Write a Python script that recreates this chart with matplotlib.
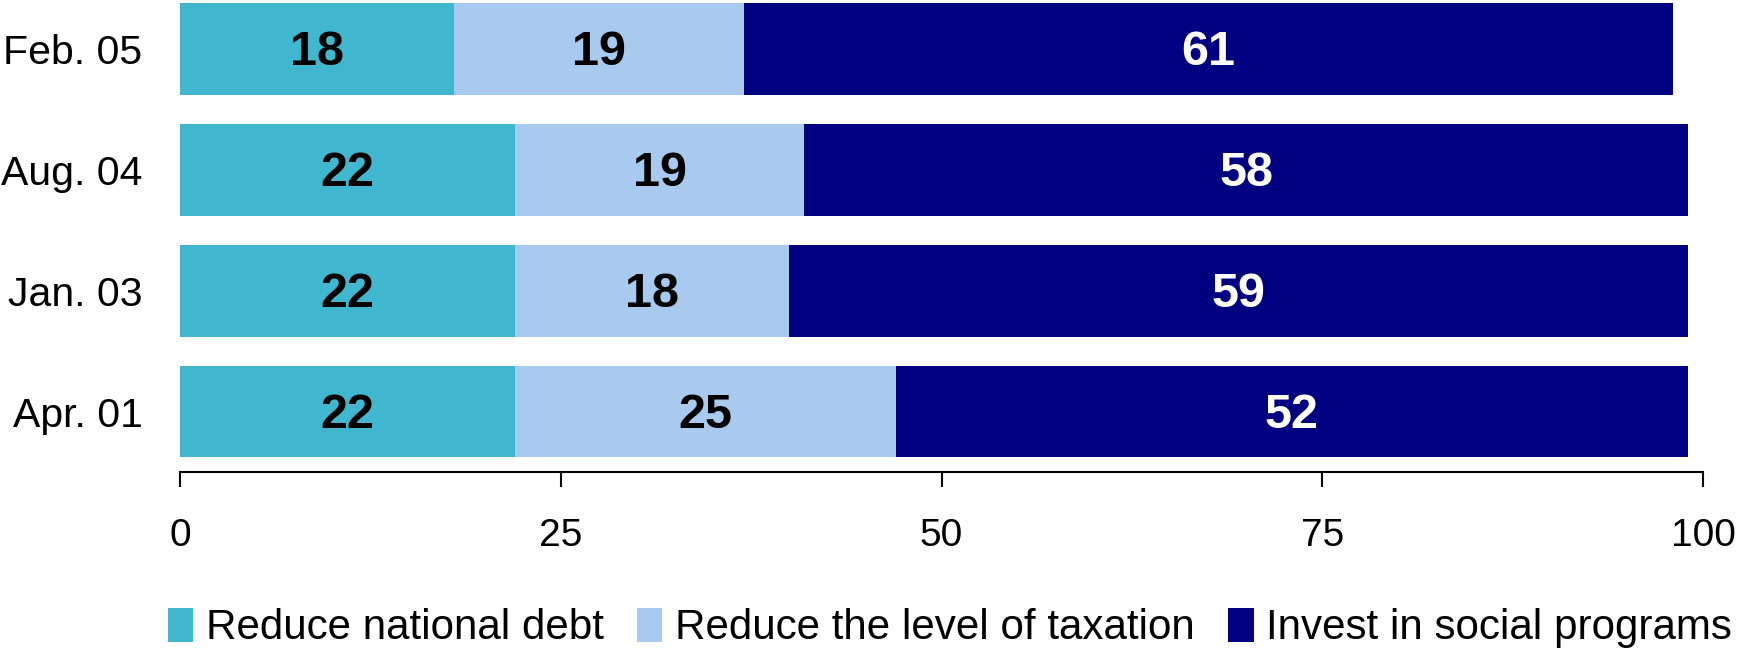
import matplotlib.pyplot as plt
import numpy as np

periods = ["Apr. 01", "Jan. 03", "Aug. 04", "Feb. 05"]
debt = [22, 22, 22, 18]
taxation = [25, 18, 19, 19]
social = [52, 59, 58, 61]

series_names = [
    "Reduce national debt",
    "Reduce the level of taxation",
    "Invest in social programs",
]
colors = ["#40B7CF", "#A8CAEF", "#000080"]
label_colors = ["black", "black", "white"]

plt.rcParams["font.family"] = ["Liberation Sans", "DejaVu Sans"]

fig = plt.figure(figsize=(17.54, 6.53), dpi=100)
ax = fig.add_axes([180 / 1754, 181 / 653, (1703 - 180) / 1754, 472 / 653])

y = np.arange(len(periods))
left = np.zeros(len(periods))

for values, name, color, tcolor in zip(
    [debt, taxation, social], series_names, colors, label_colors
):
    values = np.array(values, dtype=float)
    ax.barh(y, values, left=left, height=0.76, color=color, label=name)
    for yi, l, v in zip(y, left, values):
        ax.text(
            l + v / 2, yi - 0.03, f"{int(v)}",
            ha="center", va="center",
            color=tcolor, fontsize=35, fontweight="bold",
        )
    left += values

ax.set_xlim(0, 100)
ax.set_ylim(-0.5, 3.405)
ax.set_xticks([0, 25, 50, 75, 100])
ax.set_yticks(y)
ax.set_yticklabels(periods, fontsize=29.5)
ax.tick_params(axis="y", length=0, pad=27)
ax.tick_params(axis="x", direction="out", length=11, width=1.5,
               labelsize=28, pad=22)

for side in ["top", "right", "left"]:
    ax.spines[side].set_visible(False)
ax.spines["bottom"].set_linewidth(1.5)

fig.legend(
    loc="center",
    bbox_to_anchor=(950 / 1754, 1 - 628 / 653),
    ncol=3,
    frameon=False,
    fontsize=30.3,
    handlelength=0.6,
    handleheight=0.9,
    handletextpad=0.3,
    columnspacing=0.8,
    borderaxespad=0,
)

fig.savefig("out.png", dpi=100)
